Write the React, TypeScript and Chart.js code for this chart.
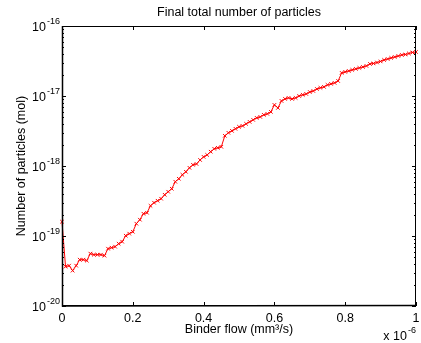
import React, { useEffect, useRef } from "react";
import { Chart, registerables } from "chart.js";

Chart.register(...registerables);

// Binder flow, in units of 10^-6 mm³/s
const FLOW = [
  0, 0.01, 0.02, 0.03, 0.04, 0.05, 0.06, 0.07, 0.08, 0.09,
  0.1, 0.11, 0.12, 0.13, 0.14, 0.15, 0.16, 0.17, 0.18, 0.19,
  0.2, 0.21, 0.22, 0.23, 0.24, 0.25, 0.26, 0.27, 0.28, 0.29,
  0.3, 0.31, 0.32, 0.33, 0.34, 0.35, 0.36, 0.37, 0.38, 0.39,
  0.4, 0.41, 0.42, 0.43, 0.44, 0.45, 0.46, 0.47, 0.48, 0.49,
  0.5, 0.51, 0.52, 0.53, 0.54, 0.55, 0.56, 0.57, 0.58, 0.59,
  0.6, 0.61, 0.62, 0.63, 0.64, 0.65, 0.66, 0.67, 0.68, 0.69,
  0.7, 0.71, 0.72, 0.73, 0.74, 0.75, 0.76, 0.77, 0.78, 0.79,
  0.8, 0.81, 0.82, 0.83, 0.84, 0.85, 0.86, 0.87, 0.88, 0.89,
  0.9, 0.91, 0.92, 0.93, 0.94, 0.95, 0.96, 0.97, 0.98, 0.99,
  1.0,
];

// Final total number of particles (mol)
const PARTICLES = [
  1.6e-19, 3.65e-20, 3.77e-20, 3.2e-20, 3.77e-20, 4.59e-20, 4.59e-20, 4.45e-20, 5.6e-20, 5.41e-20,
  5.41e-20, 5.41e-20, 5.24e-20, 6.59e-20, 6.81e-20, 7.04e-20, 7.76e-20, 8.29e-20, 1.01e-19, 1.08e-19,
  1.15e-19, 1.5e-19, 1.71e-19, 2.08e-19, 2.15e-19, 2.7e-19, 2.99e-19, 3.19e-19, 3.41e-19, 3.88e-19,
  4.29e-19, 4.73e-19, 5.96e-19, 6.57e-19, 7.49e-19, 8.27e-19, 9.42e-19, 1.04e-18, 1.07e-18, 1.22e-18,
  1.35e-18, 1.44e-18, 1.6e-18, 1.76e-18, 1.82e-18, 1.88e-18, 2.7e-18, 2.98e-18, 3.18e-18, 3.4e-18,
  3.63e-18, 3.74e-18, 4.0e-18, 4.27e-18, 4.56e-18, 4.87e-18, 5.03e-18, 5.38e-18, 5.56e-18, 5.93e-18,
  7.46e-18, 6.76e-18, 8.51e-18, 9.09e-18, 9.4e-18, 9.09e-18, 9.4e-18, 1.0e-17, 1.04e-17, 1.07e-17,
  1.14e-17, 1.18e-17, 1.26e-17, 1.31e-17, 1.35e-17, 1.44e-17, 1.49e-17, 1.54e-17, 1.64e-17, 2.14e-17,
  2.21e-17, 2.28e-17, 2.36e-17, 2.44e-17, 2.52e-17, 2.6e-17, 2.69e-17, 2.87e-17, 2.92e-17, 3.01e-17,
  3.12e-17, 3.27e-17, 3.38e-17, 3.5e-17, 3.61e-17, 3.73e-17, 3.86e-17, 3.92e-17, 4.05e-17, 4.19e-17,
  4.26e-17,
];

const X_TICKS = [0, 0.2, 0.4, 0.6, 0.8, 1];
const X_TICK_LABELS = ["0", "0.2", "0.4", "0.6", "0.8", "1"];
const Y_DECADES = [-20, -19, -18, -17, -16];
const Y_MINOR_MULTS = [2, 3, 4, 5, 6, 7, 8, 9];
const X_EXPONENT = "-6";

const TITLE = "Final total number of particles";
const X_LABEL = "Binder flow (mm³/s)";
const Y_LABEL = "Number of particles (mol)";

const FONT = '"Liberation Sans", Arial, Helvetica, sans-serif';

const framePlugin = {
  id: "matlabFrame",
  afterDraw(chart: any) {
    const { ctx, chartArea: a, scales } = chart;
    const xs = scales.x;
    const ys = scales.y;
    ctx.save();
    ctx.strokeStyle = "#000";
    ctx.fillStyle = "#000";

    // axes box
    ctx.lineWidth = 1;
    ctx.beginPath();
    ctx.rect(a.left + 0.5, a.top + 0.5, a.right - a.left - 1, a.bottom - a.top - 1);
    ctx.stroke();
    ctx.lineWidth = 1.5;
    ctx.beginPath();
    ctx.moveTo(a.left + 0.5, a.top);
    ctx.lineTo(a.left + 0.5, a.bottom);
    ctx.lineTo(a.right, a.bottom - 0.5);
    ctx.stroke();

    // x ticks
    ctx.lineWidth = 1;
    ctx.beginPath();
    X_TICKS.forEach((t) => {
      const px = Math.round(xs.getPixelForValue(t)) + 0.5;
      ctx.moveTo(px, a.bottom);
      ctx.lineTo(px, a.bottom - 4);
      ctx.moveTo(px, a.top);
      ctx.lineTo(px, a.top + 4);
    });
    // y ticks
    Y_DECADES.forEach((d) => {
      const py = Math.round(ys.getPixelForValue(Math.pow(10, d))) + 0.5;
      ctx.moveTo(a.left, py);
      ctx.lineTo(a.left + 4, py);
      ctx.moveTo(a.right, py);
      ctx.lineTo(a.right - 4, py);
      if (d < -16) {
        Y_MINOR_MULTS.forEach((m) => {
          const pm = Math.round(ys.getPixelForValue(m * Math.pow(10, d))) + 0.5;
          ctx.moveTo(a.left, pm);
          ctx.lineTo(a.left + 2, pm);
          ctx.moveTo(a.right, pm);
          ctx.lineTo(a.right - 2, pm);
        });
      }
    });
    ctx.stroke();

    // x tick labels
    ctx.font = `12.5px ${FONT}`;
    ctx.textAlign = "center";
    ctx.textBaseline = "alphabetic";
    X_TICKS.forEach((t, i) => {
      ctx.fillText(X_TICK_LABELS[i], xs.getPixelForValue(t), a.bottom + 16);
    });

    // y tick labels (10^d)
    Y_DECADES.forEach((d) => {
      const py = ys.getPixelForValue(Math.pow(10, d));
      const sup = String(d);
      ctx.font = `9px ${FONT}`;
      const sw = ctx.measureText(sup).width;
      const right = a.left - 2;
      ctx.textAlign = "left";
      ctx.fillText(sup, right - sw, py - 2);
      ctx.font = `12.5px ${FONT}`;
      ctx.textAlign = "right";
      ctx.fillText("10", right - sw - 1, py + 5);
    });

    // x exponent
    ctx.font = `9px ${FONT}`;
    const ew = ctx.measureText(X_EXPONENT).width;
    ctx.textAlign = "left";
    ctx.fillText(X_EXPONENT, a.right - ew, 333);
    ctx.font = `12.5px ${FONT}`;
    ctx.textAlign = "right";
    ctx.fillText("x 10", a.right - ew - 1, 340);

    // title
    const cx = (a.left + a.right) / 2;
    ctx.font = `12.5px ${FONT}`;
    ctx.textAlign = "center";
    ctx.fillText(TITLE, cx, 16);

    // x label
    ctx.fillText(X_LABEL, cx, 333);

    // y label
    ctx.save();
    ctx.translate(25, (a.top + a.bottom) / 2);
    ctx.rotate(-Math.PI / 2);
    ctx.textAlign = "center";
    ctx.fillText(Y_LABEL, 0, 0);
    ctx.restore();

    ctx.restore();
  },
};

export default function App() {
  const ref = useRef<HTMLCanvasElement>(null);
  useEffect(() => {
    const chart = new Chart(ref.current as HTMLCanvasElement, {
      type: "line",
      data: {
        datasets: [
          {
            data: FLOW.map((f, i) => ({ x: f, y: PARTICLES[i] })),
            borderColor: "#ff0000",
            borderWidth: 1,
            pointStyle: "crossRot",
            pointRadius: 2.5,
            pointBorderColor: "#ff0000",
            pointBackgroundColor: "#ff0000",
            pointBorderWidth: 1,
            tension: 0,
            clip: false,
          } as any,
        ],
      },
      options: {
        animation: false,
        responsive: false,
        events: [],
        layout: { padding: { left: 62, top: 26, right: 3, bottom: 37 } },
        plugins: {
          legend: { display: false },
          tooltip: { enabled: false },
          title: { display: false },
        },
        scales: {
          x: { type: "linear", min: 0, max: 1, display: false },
          y: { type: "logarithmic", min: 1e-20, max: 1e-16, display: false },
        },
      },
      plugins: [framePlugin],
    });
    return () => chart.destroy();
  }, []);

  return (
    <div style={{ position: "absolute", left: 0, top: 0, width: 421, height: 343, background: "#fff" }}>
      <canvas ref={ref} width={421} height={343} style={{ display: "block" }} />
    </div>
  );
}
